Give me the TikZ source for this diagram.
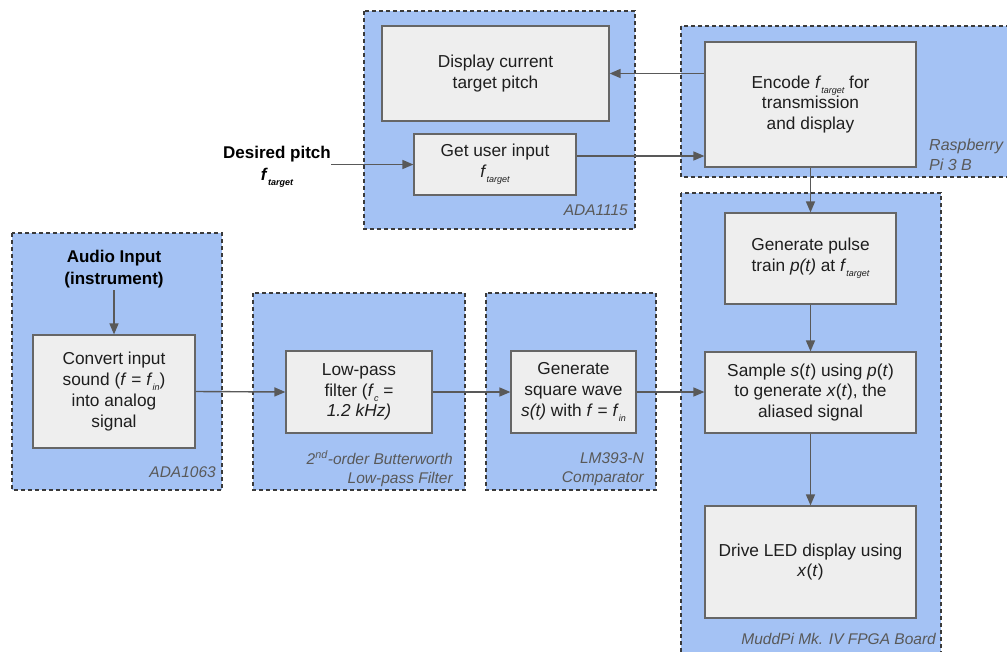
\documentclass[tikz,border=0pt]{standalone}
\usepackage{fontspec}
\setmainfont{Liberation Sans}
\usetikzlibrary{arrows.meta,calc}
\definecolor{contblue}{HTML}{A4C2F4}
\definecolor{boxfill}{HTML}{EEEEEE}
\definecolor{boxline}{HTML}{666666}
\definecolor{dashline}{HTML}{3A3A3A}
\definecolor{arrcol}{HTML}{595959}
\definecolor{txtcol}{HTML}{1E1E1E}
\definecolor{lblcol}{HTML}{595959}
\newcommand{\lowsub}[1]{\raisebox{-5pt}{\fontsize{9}{9}\selectfont\itshape #1}}
\begin{document}
\begin{tikzpicture}[x=1pt,y=-1pt,
  container/.style={fill=contblue,draw=dashline,line width=1.3pt,dash pattern=on 4pt off 3pt},
  stepbox/.style={rectangle,fill=boxfill,draw=boxline,line width=1.2pt,align=center,
    text=txtcol,font=\fontsize{17.3}{20.7}\selectfont,inner sep=2pt},
  lbl/.style={text=lblcol,font=\fontsize{15.5}{19}\selectfont\itshape,inner sep=0pt},
  intext/.style={text=black,font=\fontsize{17}{22}\selectfont\bfseries,align=center,inner sep=0pt},
  arr/.style={draw=arrcol,line width=1.4pt,-{Triangle[length=11pt,width=9pt]}}
]
\useasboundingbox (0,0) rectangle (1007,651);
\clip (0,0) rectangle (1007,651);
\fill[white] (0,0) rectangle (1007,651);

% containers
\draw[container] (364,11) rectangle (635,229);
\draw[container] (681,26) rectangle (1020,177);
\draw[container] (681,193) rectangle (941,665);
\draw[container] (12,233) rectangle (222,490);
\draw[container] (253,293) rectangle (465,490);
\draw[container] (486,293) rectangle (656,490);

% container labels
\node[lbl,anchor=east] (lada1115) at (628,210) {ADA1115};
\node[lbl,anchor=west,align=left,font=\fontsize{16}{20}\selectfont\itshape] (lrpi) at (929,155) {Raspberry\\Pi 3 B};
\node[lbl,anchor=east] (lfpga) at (936,639) {MuddPi Mk. IV FPGA Board};
\node[lbl,anchor=east] (lada1063) at (216,472) {ADA1063};
\node[lbl,anchor=east,align=right,font=\fontsize{15.5}{19.5}\selectfont\itshape] (lbutter) at (453,469) {2\textsuperscript{nd}-order Butterworth\\Low-pass Filter};
\node[lbl,anchor=east,align=right,font=\fontsize{15.5}{19.5}\selectfont\itshape] (lcomp) at (644,469) {LM393-N\\Comparator};

% step boxes
\node[stepbox,minimum width=227pt,minimum height=95pt] (display) at (495.5,73.5) {Display current\\target pitch};
\node[stepbox,minimum width=162pt,minimum height=61pt] (getin) at (495,164.5) {Get user input\\\textit{f}\lowsub{target}};
\node[stepbox,minimum width=211pt,minimum height=125pt] (encode) at (810.5,104.5) {Encode \textit{f}\lowsub{target} for\\transmission\\and display};
\node[stepbox,minimum width=171pt,minimum height=91pt] (pulse) at (810.5,258.5) {Generate pulse\\train \textit{p(t)} at \textit{f}\lowsub{target}};
\node[stepbox,minimum width=211pt,minimum height=81pt] (sample) at (810.5,392.5) {Sample \textit{s}(\textit{t}) using \textit{p}(\textit{t})\\to generate \textit{x}(\textit{t}), the\\aliased signal};
\node[stepbox,minimum width=211pt,minimum height=112pt] (drive) at (810.5,562) {Drive LED display using\\\textit{x}(\textit{t})};
\node[stepbox,minimum width=162pt,minimum height=113pt] (convert) at (114,391.5) {Convert input\\sound (\textit{f} = \textit{f}\lowsub{in})\\into analog\\signal};
\node[stepbox,minimum width=146pt,minimum height=82pt] (lowpass) at (359,392) {Low-pass\\filter (\textit{f}\lowsub{c} =\\\textit{1.2 kHz)}};
\node[stepbox,minimum width=125pt,minimum height=82pt] (square) at (573.5,392) {Generate\\square wave\\\textit{s(t)} with \textit{f} = \textit{f}\lowsub{in}};

% inputs
\node[intext] (desired) at (277,167) {Desired pitch\\\textit{f}\lowsub{target}};
\node[intext] (audio) at (114,269) {Audio Input\\(instrument)};

% connectors
\coordinate (row156) at (0,156);
\draw[arr] (encode.west |- display.east) -- (display.east);
\draw[arr] (getin.east |- row156) -- (encode.west |- row156);
\draw[arr] (desired.east |- getin.west) -- (getin.west);
\draw[arr] (encode.south) -- (pulse.north);
\draw[arr] (pulse.south) -- (sample.north);
\draw[arr] (sample.south) -- (drive.north);
\draw[arr] (audio.south) ++(0,2) -- (convert.north);
\draw[arr] (convert.east) -- (lowpass.west);
\draw[arr] (lowpass.east) -- (square.west);
\draw[arr] (square.east) -- (sample.west |- square.east);
\end{tikzpicture}
\end{document}
